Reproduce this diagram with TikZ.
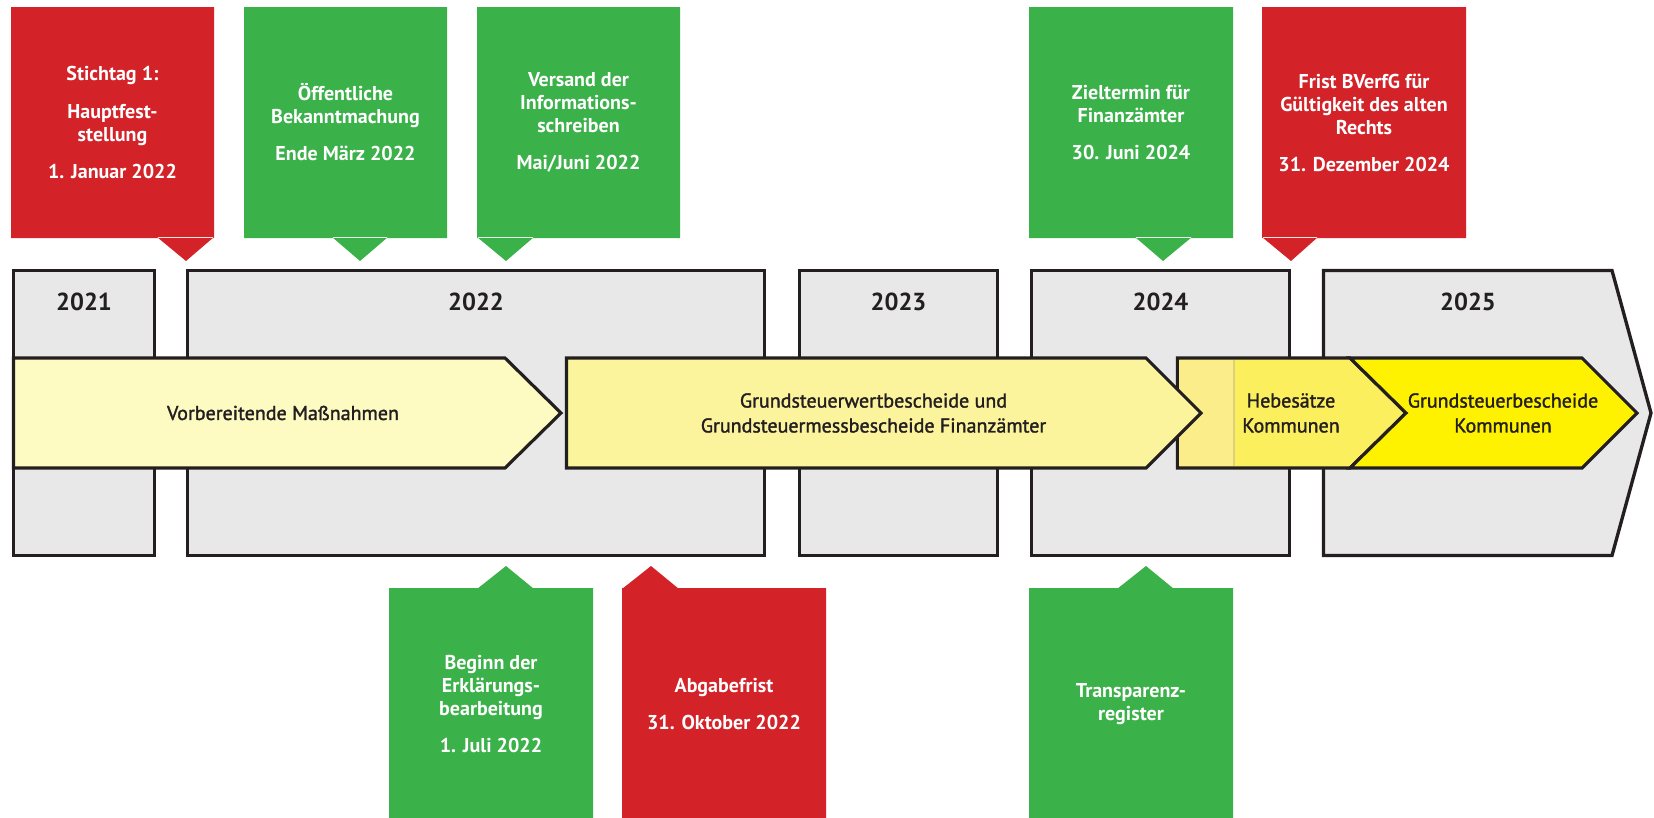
\documentclass[tikz,border=0pt]{standalone}
\usepackage{fontspec}
\setmainfont{PT Sans}
\newfontfamily\mittelfont[FakeBold=1.6]{PT Sans}
\usepackage{tikz}
\definecolor{fristrot}{HTML}{D42229}
\definecolor{termingruen}{HTML}{3BB14A}
\definecolor{jahrgrau}{HTML}{E8E8E8}
\definecolor{linie}{HTML}{231F20}
\definecolor{gelbA}{HTML}{FEFBC2}
\definecolor{gelbW}{HTML}{FCF49C}
\definecolor{gelbC}{HTML}{FBEE8A}
\definecolor{gelbD}{HTML}{FCEF5E}
\definecolor{gelbE}{HTML}{FFF200}

\begin{document}
\begin{tikzpicture}[x=0.02cm, y=-0.02cm,
  jahr/.style={draw=linie, line width=1.9pt, fill=jahrgrau},
  phase/.style={draw=linie, line width=1.8pt},
  jahrtext/.style={anchor=base, text=linie, font=\bfseries\fontsize{14}{16}\selectfont},
  phasetext/.style={align=center, text=linie, font=\mittelfont\fontsize{11.4}{14.2}\selectfont},
  termintext/.style={align=center, text=white, font=\bfseries\fontsize{11.4}{13.1}\selectfont}]

        \useasboundingbox (0,0) rectangle (1654,818);

        % Jahresfelder
        \draw[jahr] (13.5,270.5) rectangle (154.5,555.5); % 2021
        \draw[jahr] (187.5,270.5) rectangle (764.5,555.5); % 2022
        \draw[jahr] (799.5,270.5) rectangle (997.5,555.5); % 2023
        \draw[jahr] (1031.5,270.5) rectangle (1289.5,555.5); % 2024
        \draw[jahr] (1323.5,270.5) -- (1612,270.5) -- (1651,413) -- (1612,555.5) -- (1323.5,555.5) -- cycle; % 2025
        \node[jahrtext] (j2021) at (84,310) {2021};
        \node[jahrtext] (j2022) at (476,310) {2022};
        \node[jahrtext] (j2023) at (898.5,310) {2023};
        \node[jahrtext] (j2024) at (1160.5,310) {2024};
        \node[jahrtext] (j2025) at (1468,310) {2025};

        % Phasen
        \draw[phase, fill=gelbA] (13.5,358) -- (505,358) -- (561,413) -- (505,468) -- (13.5,468) -- cycle; % Vorbereitung
        \node[phasetext] (vorb) at (283,413) {Vorbereitende Maßnahmen};
        \draw[phase, fill=gelbD] (1177.5,358) -- (1350,358) -- (1406,413) -- (1350,468) -- (1177.5,468) -- cycle; % Hebesätze
        \fill[gelbC] (1179.2,359.7) rectangle (1234,466.3);
        \draw[gelbC!80!black!60!gelbC, line width=0.9pt] (1234,359.7) -- (1234,466.3);
        \node[phasetext] (hebe) at (1291,413) {Hebesätze\\Kommunen};
        \draw[phase, fill=gelbE] (1350,358) -- (1582,358) -- (1637,413) -- (1582,468) -- (1350,468) -- (1406,413) -- cycle; % Grundsteuerbescheide
        \node[phasetext] (gsb) at (1503,413) {Grundsteuerbescheide\\Kommunen};
        \draw[phase, fill=gelbW] (566.5,358) -- (1146,358) -- (1201,413) -- (1146,468) -- (566.5,468) -- cycle; % Finanzämter
        \node[phasetext] (gsw) at (873.5,413) {Grundsteuerwertbescheide und\\Grundsteuermessbescheide Finanzämter};

        % Termine oben
        \fill[fristrot] (11,7) rectangle (214,238) (157,237) -- (214,237) -- (186,261) -- cycle;
        \node[termintext] (stichtag) at (112.5,122.5) {Stichtag 1:\\[8pt]Hauptfest-\\stellung\\[8pt]1. Januar 2022};
        \fill[termingruen] (244,7) rectangle (447,238) (332,237) -- (388,237) -- (360,261) -- cycle;
        \node[termintext] (bekannt) at (345.5,122.5) {Öffentliche\\Bekanntmachung\\[8pt]Ende März 2022};
        \fill[termingruen] (477,7) rectangle (680,238) (477,237) -- (534,237) -- (506,261) -- cycle;
        \node[termintext] (versand) at (578.5,122.5) {Versand der\\Informations-\\schreiben\\[8pt]Mai/Juni 2022};
        \fill[termingruen] (1029,7) rectangle (1233,238) (1135,237) -- (1192,237) -- (1163,261) -- cycle;
        \node[termintext] (ziel) at (1131,122.5) {Zieltermin für\\Finanzämter\\[8pt]30. Juni 2024};
        \fill[fristrot] (1262,7) rectangle (1466,238) (1262,237) -- (1318,237) -- (1291,261) -- cycle;
        \node[termintext] (bverfg) at (1364,122.5) {Frist BVerfG für\\Gültigkeit des alten\\Rechts\\[8pt]31. Dezember 2024};

        % Termine unten
        \fill[termingruen] (389,588) rectangle (593,818) (477,589) -- (534,589) -- (506,566) -- cycle;
        \node[termintext] (beginn) at (491,704) {Beginn der\\Erklärungs-\\bearbeitung\\[8pt]1. Juli 2022};
        \fill[fristrot] (622,588) rectangle (826,818) (622,589) -- (679,589) -- (651,566) -- cycle;
        \node[termintext] (abgabe) at (724,704) {Abgabefrist\\[8pt]31. Oktober 2022};
        \fill[termingruen] (1029,588) rectangle (1233,818) (1117,589) -- (1174,589) -- (1146,566) -- cycle;
        \node[termintext] (transp) at (1131,704) {Transparenz-\\register};

\end{tikzpicture}
\end{document}
